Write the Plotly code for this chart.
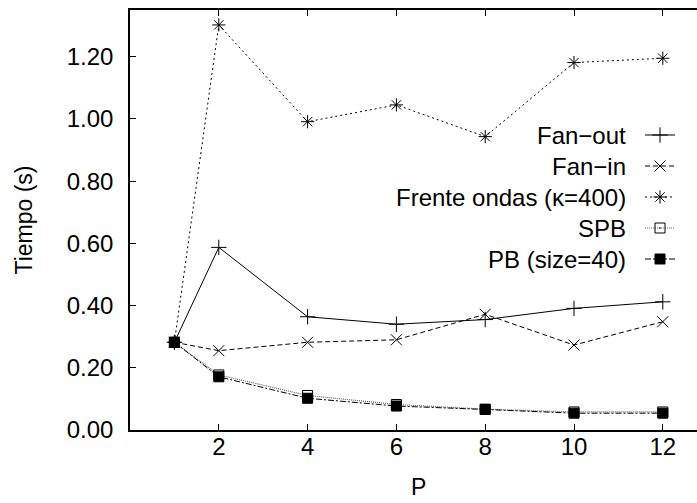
import plotly.graph_objects as go

# ---- data ----
P = [1, 2, 4, 6, 8, 10, 12]
fan_out = [0.282, 0.587, 0.364, 0.340, 0.355, 0.391, 0.412]
fan_in = [0.282, 0.255, 0.282, 0.290, 0.372, 0.273, 0.348]
frente = [0.282, 1.302, 0.991, 1.045, 0.943, 1.181, 1.195]
spb = [0.282, 0.177, 0.111, 0.082, 0.067, 0.058, 0.058]
pb = [0.282, 0.171, 0.102, 0.077, 0.066, 0.054, 0.054]

names = ["Fan\u2212out", "Fan\u2212in", "Frente ondas (\u03ba=400)", "SPB", "PB (size=40)"]
series = [fan_out, fan_in, frente, spb, pb]
x_ticks = [2, 4, 6, 8, 10, 12]
y_ticks = [0.0, 0.2, 0.4, 0.6, 0.8, 1.0, 1.2]

# ---- styles ----
W, H = 697, 503
ML, MT, MB = 130, 10, 73
FONT = "Liberation Sans, Arial, Helvetica, sans-serif"
styles = [
    dict(line=dict(color="black", width=1, dash="solid"),
         marker=dict(symbol="cross-thin-open", size=11, color="black", line=dict(color="black", width=1))),
    dict(line=dict(color="black", width=1, dash="5px,3px"),
         marker=dict(symbol="x-thin-open", size=11, color="black", line=dict(color="black", width=1))),
    dict(line=dict(color="black", width=1, dash="2px,3px"),
         marker=dict(symbol="asterisk-open", size=11, color="black", line=dict(color="black", width=1))),
    dict(line=dict(color="#666666", width=1.2, dash="1px,1px"),
         marker=dict(symbol="square-open-dot", size=10, color="black", line=dict(color="black", width=1))),
    dict(line=dict(color="black", width=1, dash="6px,2px,2px,2px"),
         marker=dict(symbol="square", size=10, color="black", line=dict(color="black", width=1))),
]

fig = go.Figure()
for name, ys, st in zip(names, series, styles):
    fig.add_trace(go.Scatter(x=P, y=ys, mode="lines+markers", name=name,
                             line=st["line"], marker=st["marker"],
                             showlegend=False, cliponaxis=False))

# ---- manual legend (text left of sample, gnuplot style) ----
leg_text_right = 628
leg_x0, leg_x1 = 645, 675
leg_y0, leg_dy = 135, 31
for i, (name, st) in enumerate(zip(names, styles)):
    yy = leg_y0 + i * leg_dy
    fig.add_trace(go.Scatter(x=[leg_x0, leg_x1], y=[yy, yy], mode="lines",
                             line=st["line"], xaxis="x2", yaxis="y2",
                             showlegend=False, cliponaxis=False, hoverinfo="skip"))
    fig.add_trace(go.Scatter(x=[(leg_x0 + leg_x1) / 2], y=[yy], mode="markers",
                             marker=st["marker"], xaxis="x2", yaxis="y2",
                             showlegend=False, cliponaxis=False, hoverinfo="skip"))
    fig.add_annotation(x=leg_text_right, y=yy, xref="x2", yref="y2", text=name,
                       showarrow=False, xanchor="right", yanchor="middle",
                       font=dict(size=24, color="black", family=FONT))

x_max = (W - ML) / 44.4
fig.update_layout(
    width=W, height=H,
    margin=dict(l=ML, r=0, t=MT, b=MB, pad=0),
    paper_bgcolor="white", plot_bgcolor="white",
    font=dict(family=FONT, size=24, color="black"),
    xaxis=dict(range=[0, x_max], tickvals=x_ticks, ticks="inside", ticklen=6,
               tickcolor="black", showline=True, linecolor="black", linewidth=1.5,
               mirror="ticks", showgrid=False, zeroline=False,
               tickfont=dict(size=24), ticklabelstandoff=-6),
    yaxis=dict(range=[0, 1.35], tickvals=y_ticks, tickformat=".2f", ticks="inside",
               ticklen=6, tickcolor="black", showline=True, linecolor="black",
               linewidth=1.5, showgrid=False, zeroline=False,
               tickfont=dict(size=24), ticklabelstandoff=10,
               title=dict(text="Tiempo (s)", font=dict(size=23), standoff=28)),
    xaxis2=dict(range=[ML, W], overlaying="x", visible=False, domain=[0, 1]),
    yaxis2=dict(range=[H - MB, MT], overlaying="y", visible=False, domain=[0, 1]),
)
fig.add_annotation(x=6.5, y=-(MB - 1) / (H - MB - MT), xref="x", yref="paper",
                   yanchor="bottom", text="P", showarrow=False,
                   font=dict(size=23, family=FONT))

fig.write_html("out.html")
